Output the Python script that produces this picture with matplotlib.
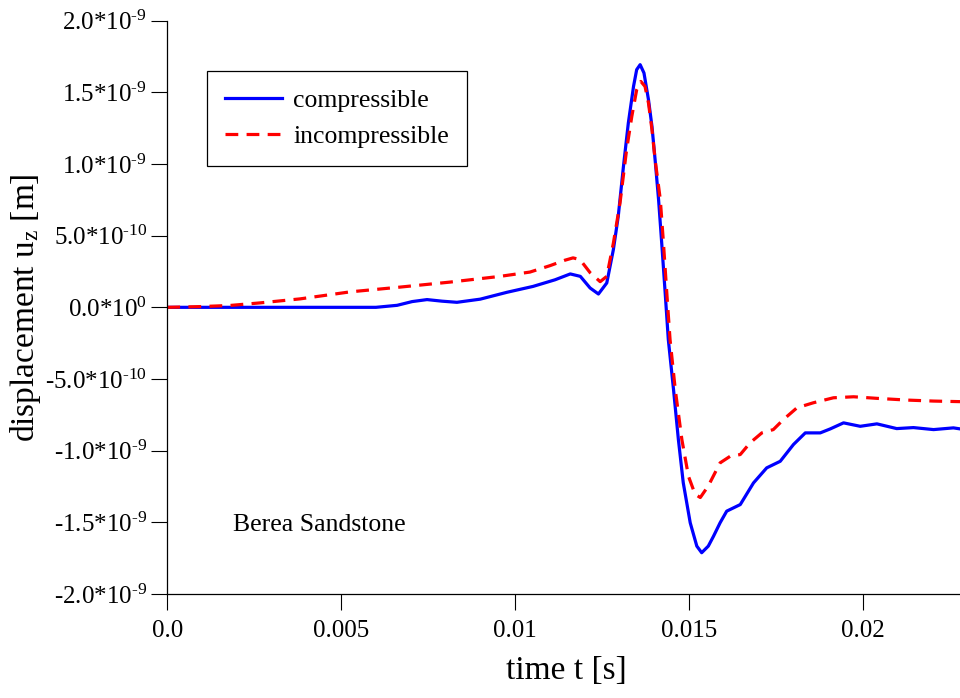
import numpy as np
import matplotlib
matplotlib.use('Agg')
import matplotlib.pyplot as plt

# tempo em ms e deslocamento em 1e-10 m
t_comp = [0.0, 2.38, 6.00, 6.61, 7.04, 7.47, 7.90, 8.33, 9.00, 9.77, 10.52, 11.15,
          11.59, 11.88, 12.16, 12.40, 12.64, 12.83, 12.97, 13.12, 13.26, 13.41, 13.50,
          13.60, 13.71, 13.84, 13.94, 14.03, 14.13, 14.22, 14.32, 14.41, 14.56, 14.70,
          14.84, 15.04, 15.23, 15.37, 15.56, 15.71, 15.90, 16.09, 16.48, 16.86, 17.24,
          17.63, 18.01, 18.35, 18.78, 19.07, 19.45, 19.93, 20.41, 20.98, 21.46, 22.04,
          22.61, 22.80]
u_comp = [0.0, 0.0, 0.0, 0.14, 0.40, 0.54, 0.43, 0.35, 0.57, 1.05, 1.46, 1.92,
          2.33, 2.16, 1.35, 0.93, 1.70, 4.03, 6.35, 9.84, 12.86, 15.42, 16.58,
          16.93, 16.35, 14.48, 12.62, 10.30, 7.51, 4.49, 1.00, -2.25, -5.74, -9.23,
          -12.24, -15.03, -16.66, -17.12, -16.66, -15.97, -15.03, -14.22, -13.76, -12.25, -11.20,
          -10.74, -9.57, -8.76, -8.76, -8.48, -8.06, -8.30, -8.13, -8.46, -8.39, -8.53,
          -8.41, -8.48]

t_incomp = [0.0, 0.94, 1.80, 2.67, 3.82, 5.26, 6.69, 8.13, 9.57, 10.43, 11.01, 11.44,
            11.67, 11.87, 12.16, 12.45, 12.64, 12.83, 13.02, 13.21, 13.36, 13.50, 13.62,
            13.74, 13.84, 13.94, 14.03, 14.18, 14.27, 14.38, 14.46, 14.61, 14.80, 14.99,
            15.18, 15.33, 15.56, 15.90, 16.19, 16.48, 16.76, 17.10, 17.43, 17.72, 18.11,
            18.58, 19.16, 19.74, 20.41, 21.27, 22.04, 22.80]
u_incomp = [0.0, 0.05, 0.13, 0.31, 0.59, 1.08, 1.41, 1.76, 2.16, 2.46, 2.91, 3.29,
            3.45, 3.33, 2.42, 1.79, 2.16, 4.48, 7.27, 10.99, 13.32, 15.18, 15.76,
            15.41, 14.25, 12.39, 10.30, 7.51, 4.49, 0.52, -2.25, -5.74, -9.23, -11.79,
            -13.04, -13.27, -12.46, -10.85, -10.39, -10.27, -9.46, -8.76, -8.53, -7.83, -7.01,
            -6.66, -6.31, -6.24, -6.35, -6.47, -6.54, -6.58]

xticks = [0.0, 0.005, 0.01, 0.015, 0.02]
xtick_labels = ['0.0', '0.005', '0.01', '0.015', '0.02']
yticks = [2.0e-9, 1.5e-9, 1.0e-9, 5.0e-10, 0.0, -5.0e-10, -1.0e-9, -1.5e-9, -2.0e-9]
ytick_labels = [r'2.0*10$^{\text{-9}}$', r'1.5*10$^{\text{-9}}$', r'1.0*10$^{\text{-9}}$',
                r'5.0*10$^{\text{-10}}$', r'0.0*10$^{\text{0}}$', r'-5.0*10$^{\text{-10}}$',
                r'-1.0*10$^{\text{-9}}$', r'-1.5*10$^{\text{-9}}$', r'-2.0*10$^{\text{-9}}$']

plt.rcParams['font.family'] = ['Liberation Serif', 'DejaVu Serif']
plt.rcParams['mathtext.fontset'] = 'custom'
plt.rcParams['mathtext.rm'] = 'Liberation Serif'
plt.rcParams['mathtext.it'] = 'Liberation Serif:italic'
plt.rcParams['mathtext.default'] = 'regular'

fig = plt.figure(figsize=(9.6, 6.98), dpi=100)
ax = fig.add_axes([0.1743, 0.149, 0.8257, 0.8214])

t1 = np.array(t_comp) * 1e-3
t2 = np.array(t_incomp) * 1e-3
u1 = np.array(u_comp) * 1e-10
u2 = np.array(u_incomp) * 1e-10

ax.plot(t1, u1, color='#0000ff', lw=2.3, label='compressible')
ax.plot(t2, u2, color='#ff0000', lw=2.3, ls=(0, (4, 2.6)), label='incompressible')

ax.set_xlim(0, 0.0228)
ax.set_ylim(-2.0e-9, 2.0e-9)
ax.set_xticks(xticks)
ax.set_xticklabels(xtick_labels)
ax.set_yticks(yticks)
ax.set_yticklabels(ytick_labels)
ax.tick_params(direction='out', length=11.5, width=0.8, labelsize=18)
ax.tick_params(axis='x', pad=7)
ax.tick_params(axis='y', pad=3)

ax.spines['top'].set_visible(False)
ax.spines['right'].set_visible(False)
ax.spines['left'].set_linewidth(0.9)
ax.spines['bottom'].set_linewidth(0.9)

ax.set_xlabel('time t [s]', fontsize=24)
ax.set_ylabel(r'displacement u$_{z}$ [m]', fontsize=24)
ax.xaxis.set_label_coords(0.504, -0.108)
ax.yaxis.set_label_coords(-0.157, 0.5)

ax.text(0.083, 0.110, 'Berea Sandstone', transform=ax.transAxes, fontsize=18.5,
        ha='left', va='baseline')

leg = ax.legend(loc='upper left', bbox_to_anchor=(0.0501, 0.9123), fontsize=18.5,
                frameon=True, fancybox=False, framealpha=1, edgecolor='black',
                handlelength=2.2, handletextpad=0.45, labelspacing=0.5, borderpad=0.7,
                borderaxespad=0)
leg.get_frame().set_linewidth(0.9)

plt.savefig('out.png', dpi=100)
